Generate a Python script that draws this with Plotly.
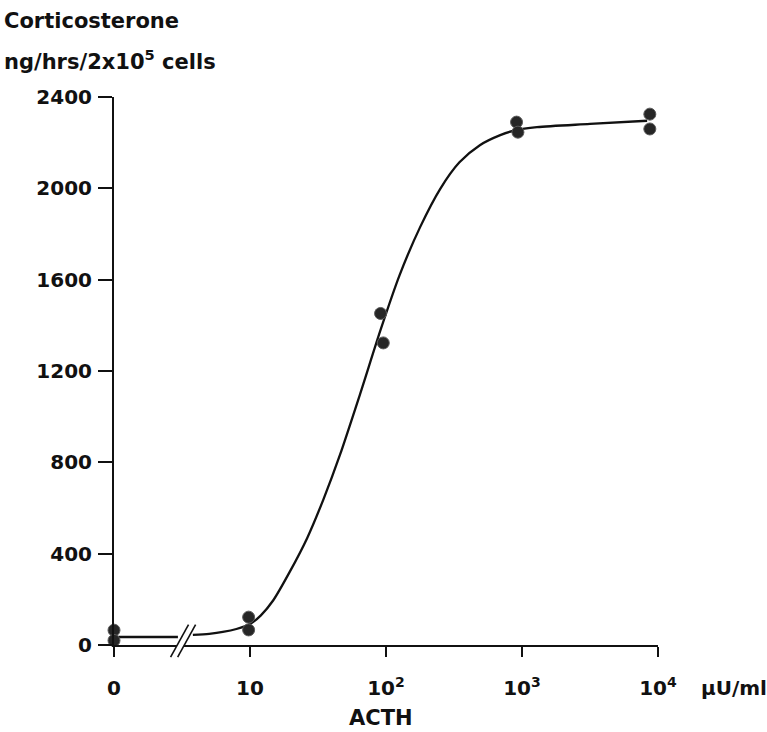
import plotly.graph_objects as go

# ACTH dose positions on a log10 scale (0 dose drawn at the origin), with replicate readings
dose_pos = [0.0, 0.0, 0.99, 0.99, 1.96, 1.98, 2.96, 2.97, 3.94, 3.94]
corticosterone = [65, 20, 122, 66, 1452, 1323, 2290, 2246, 2325, 2260]

# Fitted dose-response curve: basal segment (before the axis break) and the rising part
basal_x = [0.0, 0.47]
basal_y = [35, 35]
curve_x = [0.58, 0.70, 0.80, 0.90, 1.00, 1.08, 1.17, 1.29, 1.42, 1.54, 1.66, 1.81,
           1.96, 2.10, 2.25, 2.40, 2.54, 2.69, 2.84, 2.95, 3.11, 3.50, 3.92]
curve_y = [44, 49, 57, 70, 92, 130, 195, 318, 468, 638, 830, 1100,
           1380, 1620, 1829, 1999, 2114, 2189, 2233, 2254, 2268, 2282, 2296]

# Axis ticks
x_tickvals = [0, 1, 2, 3, 4]
x_ticktext = ["0", "10", "10<sup>2</sup>", "10<sup>3</sup>", "10<sup>4</sup>"]
y_tickvals = [0, 400, 800, 1200, 1600, 2000, 2400]

FONT = "DejaVu Sans"
INK = "#111111"

fig = go.Figure()

fig.add_trace(go.Scatter(x=basal_x, y=basal_y, mode="lines",
                         line=dict(color=INK, width=2.3), cliponaxis=False,
                         hoverinfo="skip"))
fig.add_trace(go.Scatter(x=curve_x, y=curve_y, mode="lines",
                         line=dict(color=INK, width=2.3, shape="spline", smoothing=0.8),
                         cliponaxis=False, hoverinfo="skip"))
fig.add_trace(go.Scatter(x=dose_pos, y=corticosterone, mode="markers",
                         marker=dict(size=12, color="#262626",
                                     line=dict(color="#5a5a5a", width=1)),
                         cliponaxis=False))

# Axis-break marks on the dose axis
brk_fill = "M 0.104 -0.022 L 0.117 -0.022 L 0.150 0.037 L 0.137 0.037 Z"
fig.add_shape(type="path", path=brk_fill, xref="paper", yref="paper",
              fillcolor="white", line=dict(width=0), layer="above")
fig.add_shape(type="line", xref="paper", yref="paper", x0=0.104, y0=-0.022,
              x1=0.137, y1=0.037, line=dict(color=INK, width=1.6), layer="above")
fig.add_shape(type="line", xref="paper", yref="paper", x0=0.117, y0=-0.022,
              x1=0.150, y1=0.037, line=dict(color=INK, width=1.6), layer="above")

tick_font = dict(family=FONT, size=20, color=INK, weight="bold")

fig.update_xaxes(range=[0, 4], tickvals=x_tickvals, ticktext=x_ticktext,
                 ticks="outside", ticklen=10, tickwidth=1.5, tickcolor=INK,
                 showline=True, linewidth=2, linecolor=INK,
                 showgrid=False, zeroline=False, tickfont=tick_font,
                 ticklabelstandoff=14)
fig.update_yaxes(range=[0, 2400], tickvals=y_tickvals,
                 ticks="outside", ticklen=14, tickwidth=2, tickcolor=INK,
                 showline=True, linewidth=2, linecolor=INK,
                 showgrid=False, zeroline=False, tickfont=tick_font,
                 ticklabelstandoff=2)

label_font = dict(family=FONT, size=21, color=INK, weight="bold")
fig.add_annotation(text="Corticosterone", xref="paper", yref="paper",
                   x=-0.205, y=1.139, xanchor="left", yanchor="middle",
                   showarrow=False, font=label_font)
fig.add_annotation(text="ng/hrs/2x10<sup>5</sup> cells", xref="paper", yref="paper",
                   x=-0.205, y=1.067, xanchor="left", yanchor="middle",
                   showarrow=False, font=label_font)
fig.add_annotation(text="μU/ml", xref="paper", yref="paper",
                   x=1.075, y=-0.078, xanchor="left", yanchor="middle",
                   showarrow=False, font=dict(family=FONT, size=20, color=INK, weight="bold"))
fig.add_annotation(text="ACTH", xref="paper", yref="paper",
                   x=0.49, y=-0.133, xanchor="center", yanchor="middle",
                   showarrow=False, font=dict(family=FONT, size=21, color=INK, weight="bold"))

fig.update_layout(width=767, height=732,
                  margin=dict(l=114, r=109, t=97, b=87),
                  plot_bgcolor="white", paper_bgcolor="white",
                  showlegend=False)

fig.write_html("out.html")
